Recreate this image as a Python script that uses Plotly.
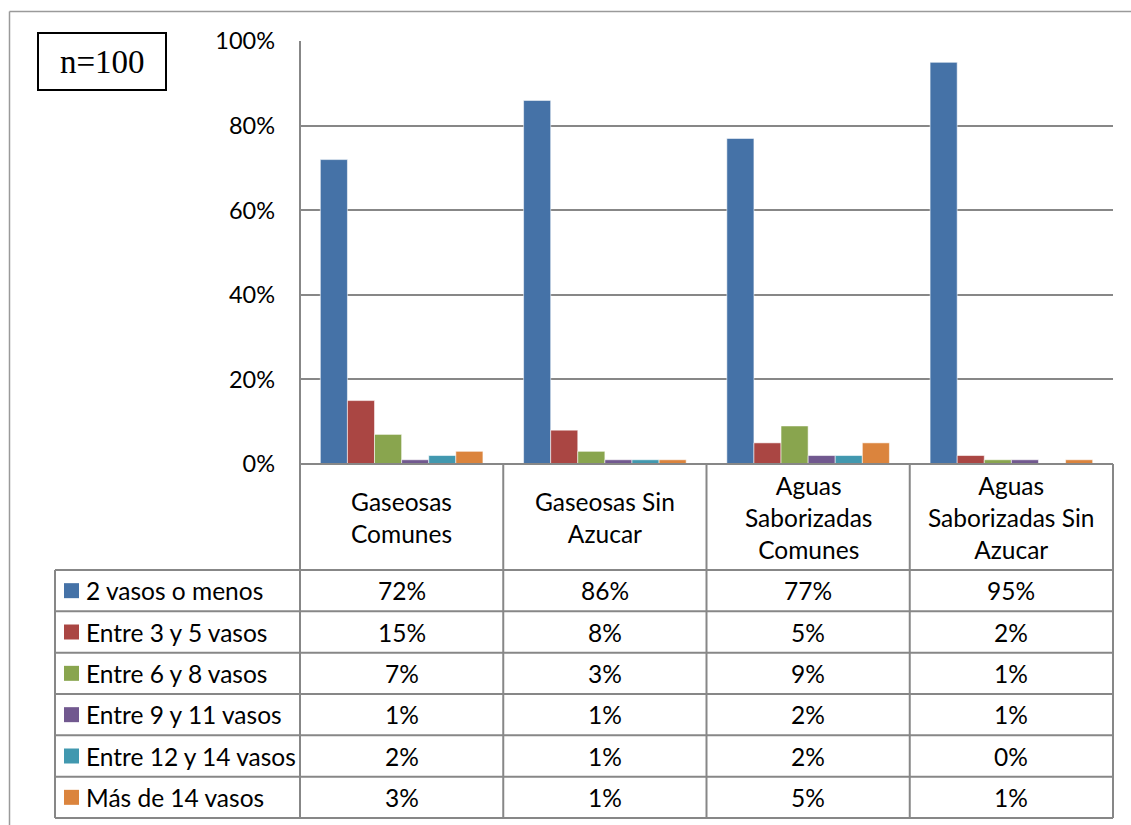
import plotly.graph_objects as go

# Beverage categories (wrapped for the table header row)
categories = [
    "Gaseosas<br>Comunes",
    "Gaseosas Sin<br>Azucar",
    "Aguas<br>Saborizadas<br>Comunes",
    "Aguas<br>Saborizadas Sin<br>Azucar",
]

# Series names (glasses per day)
series_names = [
    "2 vasos o menos",
    "Entre 3 y 5 vasos",
    "Entre 6 y 8 vasos",
    "Entre 9 y 11 vasos",
    "Entre 12 y 14 vasos",
    "Más de 14 vasos",
]

# Percent of respondents per category
vasos_2_o_menos = [72, 86, 77, 95]
vasos_3_a_5 = [15, 8, 5, 2]
vasos_6_a_8 = [7, 3, 9, 1]
vasos_9_a_11 = [1, 1, 2, 1]
vasos_12_a_14 = [2, 1, 2, 0]
vasos_mas_14 = [3, 1, 5, 1]

series_values = [vasos_2_o_menos, vasos_3_a_5, vasos_6_a_8,
                 vasos_9_a_11, vasos_12_a_14, vasos_mas_14]

colors = ["#4572A7", "#AA4643", "#89A54E", "#71588F", "#4198AF", "#DB843D"]

y_ticks = [0, 0.2, 0.4, 0.6, 0.8, 1.0]
y_tick_labels = ["0%", "20%", "40%", "60%", "80%", "100%"]

W, H = 1131, 825
FONT = "Lato"
TXT = 24.5
GRAY = "#878787"


def px(x):
    return x / W


def py(y):
    return 1 - y / H


# Plot area and table geometry (pixels)
PL, PR, PT, PB = 300, 1113, 41, 464
TABLE_LEFT = 55
ROW_TOP = 570
ROW_H = (818 - 570) / 6

fig = go.Figure()

for name, vals, col in zip(series_names, series_values, colors):
    fig.add_trace(go.Bar(
        x=categories,
        y=[v / 100 for v in vals],
        name=name,
        marker=dict(color=col, line=dict(color="rgba(255,255,255,0.55)", width=1)),
        hoverinfo="skip",
    ))

shapes = []
annotations = []

# outer frame
shapes.append(dict(type="line", xref="paper", yref="paper",
                   x0=px(9.5), x1=1.0, y0=py(11.5), y1=py(11.5),
                   line=dict(color="#9a9a9a", width=1.5)))
shapes.append(dict(type="line", xref="paper", yref="paper",
                   x0=px(9.5), x1=px(9.5), y0=py(11.5), y1=0,
                   line=dict(color="#9a9a9a", width=1.5)))

# sample-size box
shapes.append(dict(type="rect", xref="paper", yref="paper",
                   x0=px(38), x1=px(166), y0=py(33), y1=py(90),
                   line=dict(color="black", width=2)))
annotations.append(dict(text="n=100", xref="paper", yref="paper",
                        x=px(102), y=py(62), showarrow=False,
                        xanchor="center", yanchor="middle",
                        font=dict(family="Liberation Serif", size=33, color="black")))

# vertical axis line continuing down through the table
shapes.append(dict(type="line", xref="paper", yref="paper",
                   x0=px(PL), x1=px(PL), y0=py(PT), y1=py(818),
                   line=dict(color=GRAY, width=2)))
# column separators in table
col_w = (PR - PL) / len(categories)
for i in range(1, len(categories) + 1):
    xx = PL + i * col_w
    shapes.append(dict(type="line", xref="paper", yref="paper",
                       x0=px(xx), x1=px(xx), y0=py(PB), y1=py(818),
                       line=dict(color=GRAY, width=2)))
# left edge of legend column
shapes.append(dict(type="line", xref="paper", yref="paper",
                   x0=px(TABLE_LEFT), x1=px(TABLE_LEFT), y0=py(ROW_TOP), y1=py(818),
                   line=dict(color=GRAY, width=2)))
# baseline
shapes.append(dict(type="line", xref="paper", yref="paper",
                   x0=px(PL), x1=px(PR), y0=py(PB), y1=py(PB),
                   line=dict(color=GRAY, width=2)))
# row lines
for r in range(len(series_names) + 1):
    yy = ROW_TOP + r * ROW_H
    shapes.append(dict(type="line", xref="paper", yref="paper",
                       x0=px(TABLE_LEFT), x1=px(PR), y0=py(yy), y1=py(yy),
                       line=dict(color=GRAY, width=2)))

# category header text
for c in categories:
    annotations.append(dict(text=c, xref="x", yref="paper",
                            x=c, y=py((PB + ROW_TOP) / 2), showarrow=False,
                            xanchor="center", yanchor="middle",
                            font=dict(family=FONT, size=TXT, color="black")))

# legend keys, series names and values
for r, (name, vals, col) in enumerate(zip(series_names, series_values, colors)):
    yc = ROW_TOP + (r + 0.5) * ROW_H
    shapes.append(dict(type="rect", xref="paper", yref="paper",
                       x0=px(64), x1=px(79), y0=py(yc - 7.5), y1=py(yc + 7.5),
                       line=dict(width=0), fillcolor=col))
    annotations.append(dict(text=name, xref="paper", yref="paper",
                            x=px(84), y=py(yc), showarrow=False,
                            xanchor="left", yanchor="middle",
                            font=dict(family=FONT, size=TXT, color="black")))
    for c, v in zip(categories, vals):
        annotations.append(dict(text=f"{v}%", xref="x", yref="paper",
                                x=c, y=py(yc), showarrow=False,
                                xanchor="center", yanchor="middle",
                                font=dict(family=FONT, size=TXT, color="black")))

fig.update_layout(
    width=W, height=H,
    margin=dict(l=0, r=0, t=0, b=0, autoexpand=False),
    paper_bgcolor="white", plot_bgcolor="white",
    barmode="group", bargap=0.2, bargroupgap=0,
    showlegend=False,
    shapes=shapes,
    annotations=annotations,
    xaxis=dict(domain=[px(PL), px(PR)], showticklabels=False, showline=False,
               showgrid=False, zeroline=False, ticks="", automargin=False),
    yaxis=dict(domain=[py(PB), py(PT)], range=[0, 1.0005],
               tickvals=y_ticks, ticktext=y_tick_labels,
               showgrid=True, gridcolor=GRAY, gridwidth=1.5,
               zeroline=False, showline=False, ticks="",
               ticklabelstandoff=24, automargin=False,
               tickfont=dict(family=FONT, size=23.5, color="black")),
)

fig.write_html("out.html")
